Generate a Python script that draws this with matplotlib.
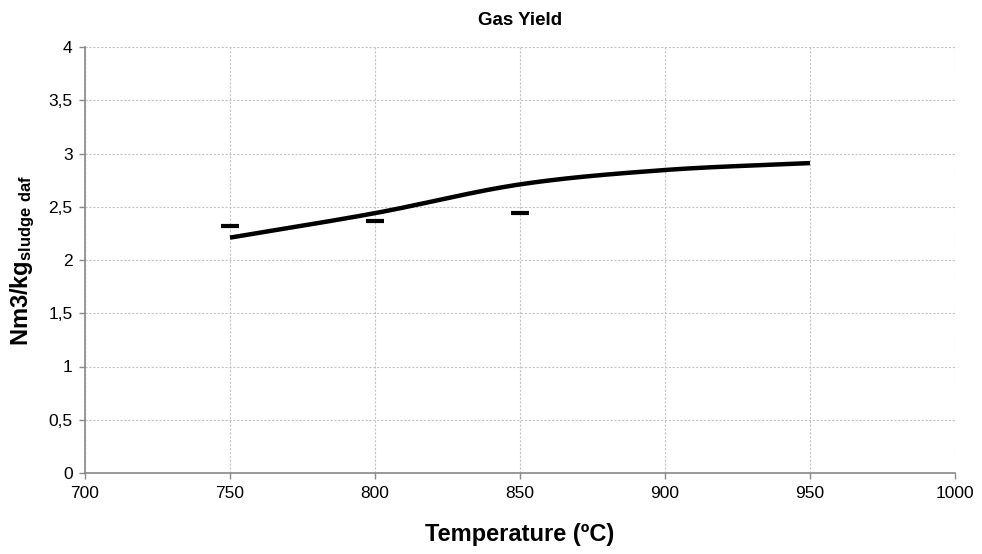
import numpy as np
import matplotlib
matplotlib.use("Agg")
import matplotlib.pyplot as plt
from matplotlib.ticker import FuncFormatter

plt.rcParams['font.family'] = ['Liberation Sans', 'DejaVu Sans']
plt.rcParams['mathtext.fontset'] = 'custom'
plt.rcParams['mathtext.rm'] = 'Liberation Sans'
plt.rcParams['mathtext.bf'] = 'Liberation Sans:bold'

# Model curve (gas yield vs temperature)
model_temp = [750, 800, 850, 900, 950]
model_yield = [2.21, 2.44, 2.71, 2.845, 2.91]

# Experimental points
exp_temp = [750, 800, 850]
exp_yield = [2.32, 2.37, 2.44]

x_ticks = [700, 750, 800, 850, 900, 950, 1000]
y_ticks = [0, 0.5, 1, 1.5, 2, 2.5, 3, 3.5, 4]


def smooth(xs, ys, n=40):
    # Catmull-Rom spline through the points, like a smoothed scatter line
    xs = np.asarray(xs, float)
    ys = np.asarray(ys, float)
    px = np.concatenate([[2 * xs[0] - xs[1]], xs, [2 * xs[-1] - xs[-2]]])
    py = np.concatenate([[2 * ys[0] - ys[1]], ys, [2 * ys[-1] - ys[-2]]])
    out_x, out_y = [], []
    t = np.linspace(0, 1, n)
    for i in range(1, len(px) - 2):
        for p, out in ((px, out_x), (py, out_y)):
            p0, p1, p2, p3 = p[i - 1], p[i], p[i + 1], p[i + 2]
            seg = 0.5 * ((2 * p1) + (-p0 + p2) * t
                         + (2 * p0 - 5 * p1 + 4 * p2 - p3) * t ** 2
                         + (-p0 + 3 * p1 - 3 * p2 + p3) * t ** 3)
            out.extend(seg)
    return out_x, out_y


fig = plt.figure(figsize=(9.82, 5.54), dpi=100)
ax = fig.add_axes([85 / 982, 1 - 473 / 554, 870 / 982, 426 / 554])

sx, sy = smooth(model_temp, model_yield)
ax.plot(sx, sy, color='black', linewidth=3.2, solid_capstyle='butt', zorder=3)
ax.plot(exp_temp, exp_yield, linestyle='none', marker='_', markersize=13,
        markeredgewidth=3, color='black', zorder=4)

ax.set_xlim(700, 1000)
ax.set_ylim(0, 4)
ax.set_xticks(x_ticks)
ax.set_yticks(y_ticks)
ax.yaxis.set_major_formatter(FuncFormatter(lambda v, p: ('%g' % v).replace('.', ',')))

ax.grid(True, color='#c4c4c4', linestyle=(0, (2, 1.5)), linewidth=0.8)
ax.set_axisbelow(True)
for s in ('top', 'right'):
    ax.spines[s].set_visible(False)
for s in ('left', 'bottom'):
    ax.spines[s].set_color('#888888')
    ax.spines[s].set_linewidth(1.2)
ax.tick_params(direction='out', length=4, width=1, color='#888888',
               labelsize=12.5, pad=5)

ax.set_title('Gas Yield', fontsize=13.5, fontweight='bold', pad=16)
ax.set_xlabel('Temperature (ºC)', fontsize=17, fontweight='bold', labelpad=16)
ax.set_ylabel(r'$\mathbf{Nm3/kg_{sludge\ daf}}$', fontsize=17, labelpad=8)

fig.savefig('out.png', dpi=100)
